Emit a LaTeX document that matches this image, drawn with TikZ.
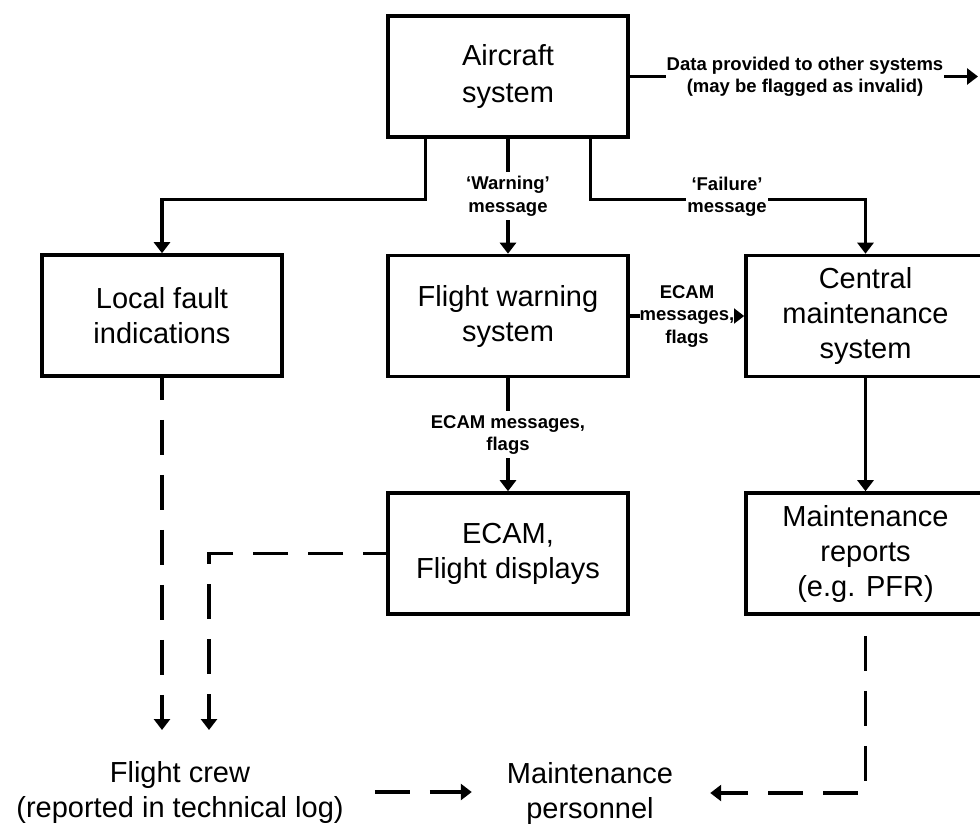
\documentclass[tikz,border=0pt]{standalone}
\usepackage{fontspec}
\setmainfont{Liberation Sans}
\usetikzlibrary{arrows.meta}
\begin{document}
\begin{tikzpicture}[x=1pt,y=-1pt,
  box/.style={draw, line width=3.6pt, inner sep=0pt, minimum width=240pt, minimum height=121pt, align=center, font=\fontsize{29}{35}\selectfont},
  txt/.style={inner sep=0pt, align=center, font=\fontsize{29}{35}\selectfont},
  lbl/.style={fill=white, inner xsep=1pt, inner ysep=4pt, align=center, font=\bfseries\fontsize{18.5}{22.5}\selectfont},
  arr/.style={line width=3.6pt, -{Triangle[length=11pt,width=16pt]}},
  dasharr/.style={line width=3.6pt, dash pattern=on 35pt off 20pt, -{Triangle[length=11pt,width=16pt]}},
]
\useasboundingbox (0,0) rectangle (980,823);

% boxes
\node[box, font=\fontsize{29}{37}\selectfont] (air) at (508,76.5) {Aircraft\\system};
\node[box] (local) at (162,315.5) {Local fault\\indications};
\node[box] (fws) at (508,316) {Flight warning\\system};
\node[box, minimum width=239pt] (cms) at (865.5,316) {Central\\maintenance\\system};
\node[box] (ecam) at (508,553.5) {ECAM,\\Flight displays};
\node[box, minimum width=239pt] (mr) at (865.5,553.5) {Maintenance\\reports\\(e.g. PFR)};
\node[txt] (fc) at (180,792) {Flight crew\\(reported in technical log)};
\node[txt] (mp) at (590,793) {Maintenance\\personnel};

% solid connectors
\coordinate (dataend) at (978,76.5);
\draw[arr] (air.east) -- (dataend);
\node[lbl] (ldata) at (805,77) {Data provided to other systems\\(may be flagged as invalid)};

\draw[arr] ([xshift=-82.5pt]air.south) -- ++(0,60.5) -| (local.north);
\draw[arr] ([xshift=82.5pt]air.south) -- ++(0,60.5) -| (cms.north);
\node[lbl] (lfail) at (727,197) {‘Failure’\\message};
\draw[arr] (air.south) -- (fws.north) node[lbl, midway] (lwarn) {‘Warning’\\message};
\draw[arr] (fws.east) -- (cms.west) node[lbl, inner xsep=0pt, inner ysep=1pt, midway] (lecam1) {ECAM\\messages,\\flags};
\draw[arr] (fws.south) -- (ecam.north) node[lbl, midway] (lecam2) {ECAM messages,\\flags};
\draw[arr] (cms.south) -- (mr.north);

% dashed connectors
\coordinate (fc1) at (162,730);
\coordinate (fc2) at (209,730);
\draw[dasharr, dash phase=13pt] (local.south) -- (fc1);
\draw[dasharr, dash phase=12pt] (ecam.west) -| (fc2);
\draw[dasharr, shorten <=31pt, shorten >=35pt] (fc.east) -- (fc.east -| mp.west);
\draw[dasharr, dash phase=35pt, shorten >=37pt] (mr.south) |- (mp.east);
\end{tikzpicture}
\end{document}
